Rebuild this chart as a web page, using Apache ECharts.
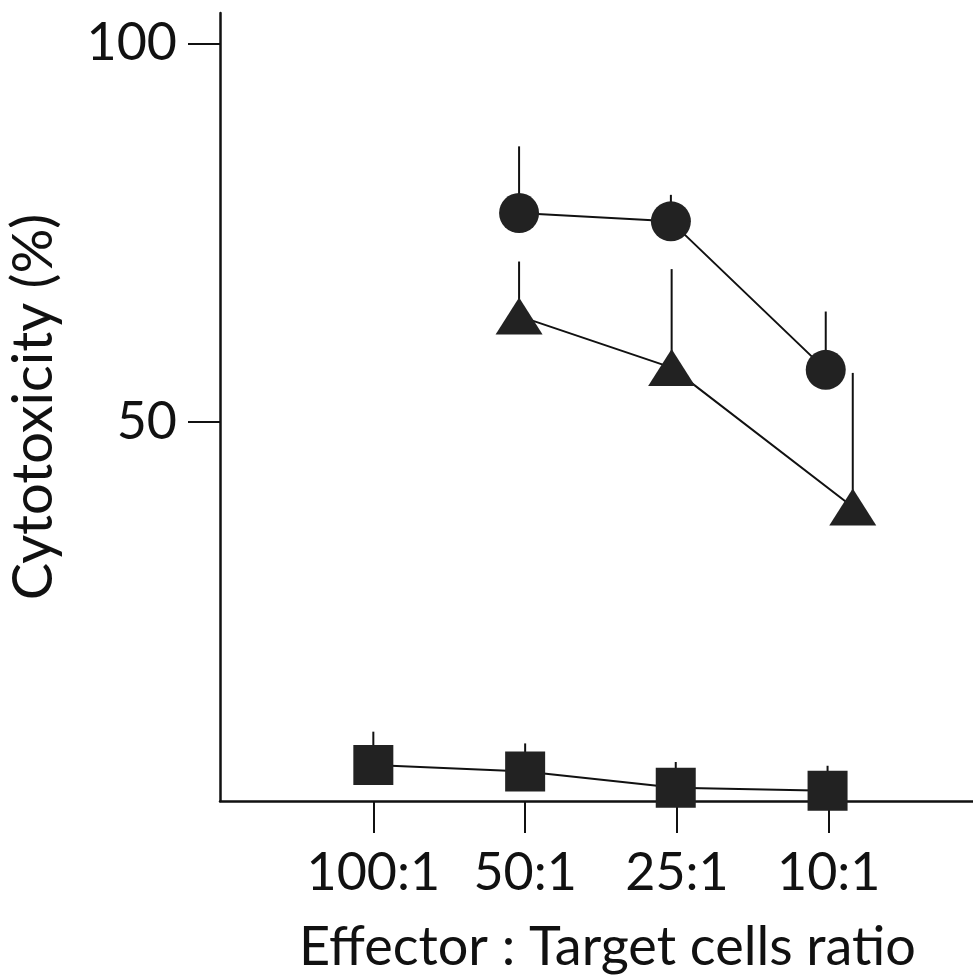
<!DOCTYPE html>
<html>
<head>
<meta charset="utf-8">
<script src="https://cdn.jsdelivr.net/npm/echarts@6/dist/echarts.min.js"></script>
<style>
  html, body { margin: 0; padding: 0; background: #fff; }
  #chart { width: 973px; height: 979px; }
</style>
</head>
<body>
<div id="chart"></div>
<script>
// Effector : target ratios along the x axis
const ratios = ['100:1', '50:1', '25:1', '10:1'];

// Mean cytotoxicity (%) and upper SD for each effector group
const circleMean = [null, 77.6, 76.5, 56.9];
const circleSD = [null, 8.8, 3.5, 7.7];

const triangleMean = [null, 64.0, 57.2, 38.8];
const triangleSD = [null, 7.2, 13.0, 17.7];

const squareMean = [4.75, 3.9, 1.75, 1.35];
const squareSD = [4.4, 3.7, 3.4, 3.3];

// Y axis tick labels
const yTicks = [50, 100];

// Small horizontal dodge (in category units) so overlapping error bars stay readable
const circleDodge = [0, -0.04, -0.04, -0.02];
const triangleDodge = [0, -0.04, -0.035, 0.158];
const squareDodge = [0, 0, -0.008, -0.008];

const FONT = 'Lato, "Open Sans", "DejaVu Sans", sans-serif';
const INK = '#111';
const FILL = '#222';

function points(mean, dodge) {
  const out = [];
  mean.forEach((v, i) => { if (v != null) out.push([i + dodge[i], v]); });
  return out;
}
function errPoints(mean, sd, dodge) {
  const out = [];
  mean.forEach((v, i) => { if (v != null) out.push([i + dodge[i], v, v + sd[i]]); });
  return out;
}

function errorSeries(mean, sd, dodge) {
  return {
    type: 'custom',
    z: 1,
    silent: true,
    data: errPoints(mean, sd, dodge),
    renderItem: function (params, api) {
      const p0 = api.coord([api.value(0), api.value(1)]);
      const p1 = api.coord([api.value(0), api.value(2)]);
      return {
        type: 'line',
        shape: { x1: p0[0], y1: p0[1], x2: p1[0], y2: p1[1] },
        style: { stroke: INK, lineWidth: 2 }
      };
    }
  };
}

function lineSeries(mean, dodge, symbol, size) {
  return {
    type: 'line',
    z: 3,
    data: points(mean, dodge),
    symbol: symbol,
    symbolSize: size,
    showAllSymbol: true,
    lineStyle: { color: INK, width: 2 },
    itemStyle: { color: FILL, borderWidth: 0 },
    emphasis: { disabled: true },
    animation: false
  };
}

const chart = echarts.init(document.getElementById('chart'), null, { renderer: 'canvas' });

chart.setOption({
  backgroundColor: '#fff',
  animation: false,
  grid: { left: 220, right: 0, top: 13, bottom: 178, containLabel: false, outerBoundsMode: 'none' },
  xAxis: {
    type: 'value',
    min: -1.01,
    max: 3.95,
    name: 'Effector : Target cells ratio',
    nameLocation: 'middle',
    nameGap: 120,
    nameTextStyle: { fontFamily: FONT, fontSize: 54, color: INK, padding: [0, 0, 0, 22] },
    axisLine: { show: true, onZero: false, lineStyle: { color: INK, width: 2.5 } },
    axisTick: { show: true, customValues: [0, 1, 2, 3], length: 32, inside: false, lineStyle: { color: INK, width: 2 } },
    axisLabel: {
      customValues: [0, 1, 2, 3],
      formatter: v => ratios[Math.round(v)] || '',
      fontFamily: FONT, fontSize: 52, color: INK, margin: 46
    },
    splitLine: { show: false }
  },
  yAxis: {
    type: 'value',
    min: 0,
    max: 104,
    name: 'Cytotoxicity (%)',
    nameLocation: 'middle',
    nameGap: 158,
    nameRotate: 90,
    nameTextStyle: { fontFamily: FONT, fontSize: 56, color: INK },
    axisLine: { show: true, onZero: false, lineStyle: { color: INK, width: 2.5 } },
    axisTick: { show: true, customValues: yTicks, length: 32, inside: false, lineStyle: { color: INK, width: 2 } },
    axisLabel: {
      customValues: yTicks,
      fontFamily: FONT, fontSize: 52, color: INK, margin: 43
    },
    splitLine: { show: false }
  },
  series: [
    errorSeries(circleMean, circleSD, circleDodge),
    errorSeries(triangleMean, triangleSD, triangleDodge),
    errorSeries(squareMean, squareSD, squareDodge),
    lineSeries(circleMean, circleDodge, 'circle', 40),
    lineSeries(triangleMean, triangleDodge, 'triangle', [47, 37]),
    lineSeries(squareMean, squareDodge, 'rect', 40)
  ]
});
</script>
</body>
</html>
